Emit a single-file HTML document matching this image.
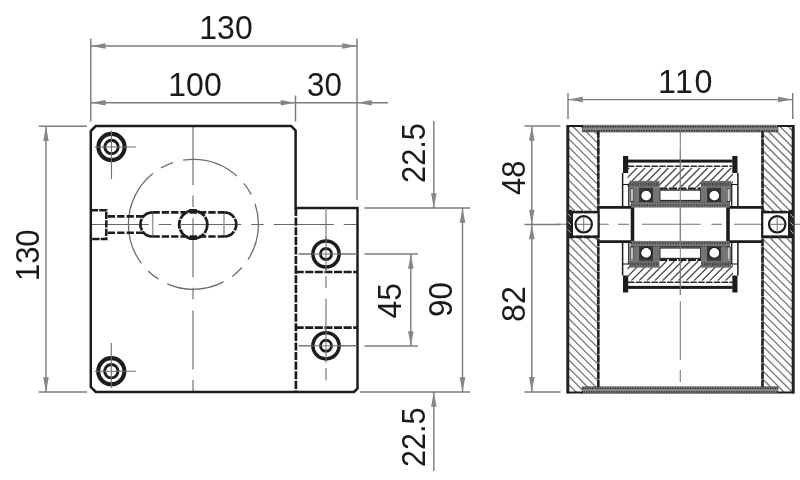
<!DOCTYPE html>
<html><head><meta charset="utf-8"><title>Drawing</title>
<style>
html,body{margin:0;padding:0;background:#fff;}
body{width:800px;height:480px;overflow:hidden;font-family:"Liberation Sans",sans-serif;}
svg{display:block;filter:grayscale(1);}
</style></head>
<body>
<svg width="800" height="480" viewBox="0 0 800 480" font-family="'Liberation Sans', sans-serif">
<rect width="800" height="480" fill="#fff"/>
<line x1="90.8" y1="224.5" x2="358" y2="224.5" stroke="#666" stroke-width="1.1" stroke-dasharray="60 10 12.5 10" stroke-dashoffset="2.049999999999997" stroke-linecap="butt"/>
<line x1="193.0" y1="126.0" x2="193.0" y2="391.9" stroke="#666" stroke-width="1.1" stroke-dasharray="59 10.5 11.5 11.2" stroke-linecap="butt"/>
<path d="M128.4,224.3 A65.0,65.0 0 1 1 258.4,224.3 A65.0,65.0 0 1 1 128.4,224.3" stroke="#6c6c6c" stroke-width="1.25" fill="none" stroke-dasharray="58.2 9.9 13.2 10.2" stroke-linejoin="miter"/>
<line x1="152.7" y1="212" x2="152.7" y2="237" stroke="#9a9a9a" stroke-width="1.5" stroke-linecap="butt"/>
<line x1="224.0" y1="212" x2="224.0" y2="237" stroke="#9a9a9a" stroke-width="1.5" stroke-linecap="butt"/>
<path d="M90.8,131.0 L95.8,126.0 L291.20000000000005,126.0 L295.6,130.6 L295.6,208.0 L357.5,208.0 L357.5,388.4 L354.0,391.9 L95.8,391.9 L90.8,386.9 Z" stroke="#1c1c1c" stroke-width="2.5" fill="none" stroke-linejoin="miter"/>
<line x1="295.90000000000003" y1="208.0" x2="295.90000000000003" y2="391.9" stroke="#1c1c1c" stroke-width="2.7" stroke-dasharray="8.1 1.5" stroke-linecap="butt"/>
<line x1="295.6" y1="272.0" x2="357.5" y2="272.0" stroke="#1c1c1c" stroke-width="2.7" stroke-dasharray="8.1 1.5" stroke-linecap="butt"/>
<line x1="295.6" y1="327.6" x2="357.5" y2="327.6" stroke="#1c1c1c" stroke-width="2.7" stroke-dasharray="8.1 1.5" stroke-linecap="butt"/>
<line x1="326.0" y1="208.0" x2="326.0" y2="272.5" stroke="#707070" stroke-width="1.1" stroke-linecap="butt"/>
<line x1="326.0" y1="276" x2="326.0" y2="288" stroke="#707070" stroke-width="1.1" stroke-linecap="butt"/>
<line x1="326.0" y1="298.8" x2="326.0" y2="360" stroke="#707070" stroke-width="1.1" stroke-linecap="butt"/>
<line x1="326.0" y1="368" x2="326.0" y2="380.5" stroke="#707070" stroke-width="1.1" stroke-linecap="butt"/>
<line x1="298.8" y1="254" x2="357.5" y2="254" stroke="#707070" stroke-width="1.1" stroke-linecap="butt"/>
<line x1="298.8" y1="345.8" x2="357.5" y2="345.8" stroke="#707070" stroke-width="1.1" stroke-linecap="butt"/>
<circle cx="111.5" cy="147.0" r="13.1" stroke="#1c1c1c" stroke-width="4.1" fill="#fff"/>
<circle cx="111.5" cy="147.0" r="6.7" stroke="#1c1c1c" stroke-width="2.9" fill="none"/>
<line x1="94.8" y1="147.0" x2="135.8" y2="147.0" stroke="#707070" stroke-width="1.1" stroke-linecap="butt"/>
<line x1="111.5" y1="130.6" x2="111.5" y2="179" stroke="#707070" stroke-width="1.1" stroke-linecap="butt"/>
<circle cx="111.3" cy="371.2" r="13.1" stroke="#1c1c1c" stroke-width="4.1" fill="#fff"/>
<circle cx="111.3" cy="371.2" r="6.7" stroke="#1c1c1c" stroke-width="2.9" fill="none"/>
<line x1="94.8" y1="371.2" x2="135.8" y2="371.2" stroke="#707070" stroke-width="1.1" stroke-linecap="butt"/>
<line x1="111.3" y1="343" x2="111.3" y2="388" stroke="#707070" stroke-width="1.1" stroke-linecap="butt"/>
<circle cx="326.0" cy="254.0" r="13.1" stroke="#1c1c1c" stroke-width="3.5" fill="#fff"/>
<circle cx="326.0" cy="254.0" r="5.5" stroke="#1c1c1c" stroke-width="2.9" fill="none"/>
<circle cx="326.0" cy="345.8" r="13.1" stroke="#1c1c1c" stroke-width="3.5" fill="#fff"/>
<circle cx="326.0" cy="345.8" r="5.5" stroke="#1c1c1c" stroke-width="2.9" fill="none"/>
<line x1="298.8" y1="254.0" x2="357.5" y2="254.0" stroke="#707070" stroke-width="1.0" stroke-linecap="butt"/>
<line x1="326.0" y1="237.0" x2="326.0" y2="271.0" stroke="#707070" stroke-width="1.0" stroke-linecap="butt"/>
<line x1="298.8" y1="345.8" x2="357.5" y2="345.8" stroke="#707070" stroke-width="1.0" stroke-linecap="butt"/>
<line x1="326.0" y1="328.8" x2="326.0" y2="362.8" stroke="#707070" stroke-width="1.0" stroke-linecap="butt"/>
<path d="M90.8,210.2 L106.3,210.2 L106.3,239 L90.8,239" stroke="#1c1c1c" stroke-width="2.5" fill="none" stroke-dasharray="7.4 1.1" stroke-linejoin="miter"/>
<line x1="106.3" y1="216.4" x2="143" y2="216.4" stroke="#1c1c1c" stroke-width="2.6" stroke-dasharray="7.3 2.1" stroke-dashoffset="-1.5" stroke-linecap="butt"/>
<line x1="106.3" y1="232.8" x2="143" y2="232.8" stroke="#1c1c1c" stroke-width="2.6" stroke-dasharray="7.3 2.1" stroke-dashoffset="-1.5" stroke-linecap="butt"/>
<path d="M152.5,212.3 L224.2,212.3 M152.5,236.5 L224.2,236.5" stroke="#1c1c1c" stroke-width="2.7" fill="none" stroke-dasharray="7.3 2.0" stroke-linejoin="miter"/>
<path d="M152.5,212.3 A12.1,12.1 0 0 0 152.5,236.5 M224.2,212.3 A12.1,12.1 0 0 1 224.2,236.5" stroke="#1c1c1c" stroke-width="2.7" fill="none" stroke-dasharray="12 1.2" stroke-linejoin="miter"/>
<circle cx="193.3" cy="224.6" r="14.1" stroke="#1c1c1c" stroke-width="2.8" fill="none" stroke-dasharray="9 1.0"/>
<line x1="189.0" y1="210.6" x2="197.0" y2="210.6" stroke="#1c1c1c" stroke-width="2.6" stroke-linecap="butt"/>
<line x1="189.0" y1="238.6" x2="197.0" y2="238.6" stroke="#1c1c1c" stroke-width="2.6" stroke-linecap="butt"/>
<line x1="90.8" y1="38.5" x2="90.8" y2="121.5" stroke="#7c7c7c" stroke-width="1.45" stroke-linecap="butt"/>
<line x1="357" y1="38.5" x2="357" y2="200" stroke="#7c7c7c" stroke-width="1.45" stroke-linecap="butt"/>
<line x1="90.8" y1="46" x2="357" y2="46" stroke="#7c7c7c" stroke-width="1.45" stroke-linecap="butt"/>
<polygon points="90.80,46.00 105.60,43.25 105.60,48.75" fill="#868686"/>
<polygon points="357.00,46.00 342.20,43.25 342.20,48.75" fill="#868686"/>
<text transform="translate(226.00,38.55) scale(0.9399,1)" font-size="34" letter-spacing="0" text-anchor="middle" fill="#1a1a1a">130</text>
<line x1="295.5" y1="95.5" x2="295.5" y2="121.5" stroke="#7c7c7c" stroke-width="1.45" stroke-linecap="butt"/>
<line x1="90.8" y1="102.7" x2="295.5" y2="102.7" stroke="#7c7c7c" stroke-width="1.45" stroke-linecap="butt"/>
<polygon points="90.80,102.70 105.60,99.95 105.60,105.45" fill="#868686"/>
<polygon points="295.50,102.70 280.70,99.95 280.70,105.45" fill="#868686"/>
<line x1="295.5" y1="102.7" x2="388" y2="102.7" stroke="#7c7c7c" stroke-width="1.45" stroke-linecap="butt"/>
<polygon points="357.00,102.70 371.80,99.95 371.80,105.45" fill="#868686"/>
<text transform="translate(195.00,95.75) scale(0.9399,1)" font-size="34" letter-spacing="0" text-anchor="middle" fill="#1a1a1a">100</text>
<text transform="translate(324.50,95.75) scale(0.9200,1)" font-size="34" letter-spacing="0" text-anchor="middle" fill="#1a1a1a">30</text>
<line x1="38.7" y1="126.2" x2="87" y2="126.2" stroke="#7c7c7c" stroke-width="1.45" stroke-linecap="butt"/>
<line x1="38.7" y1="392" x2="87" y2="392" stroke="#7c7c7c" stroke-width="1.45" stroke-linecap="butt"/>
<line x1="46" y1="126.2" x2="46" y2="392" stroke="#7c7c7c" stroke-width="1.45" stroke-linecap="butt"/>
<polygon points="46.00,126.20 43.25,141.00 48.75,141.00" fill="#868686"/>
<polygon points="46.00,392.00 43.25,377.20 48.75,377.20" fill="#868686"/>
<text transform="translate(39.00,255.25) rotate(-90) scale(0.9124,1)" font-size="34" letter-spacing="0" text-anchor="middle" fill="#1a1a1a">130</text>
<line x1="364.4" y1="208" x2="470" y2="208" stroke="#7c7c7c" stroke-width="1.45" stroke-linecap="butt"/>
<line x1="360" y1="392" x2="470" y2="392" stroke="#7c7c7c" stroke-width="1.45" stroke-linecap="butt"/>
<line x1="433.8" y1="121" x2="433.8" y2="208" stroke="#7c7c7c" stroke-width="1.45" stroke-linecap="butt"/>
<polygon points="433.80,208.00 431.05,193.20 436.55,193.20" fill="#868686"/>
<line x1="433.8" y1="392" x2="433.8" y2="471" stroke="#7c7c7c" stroke-width="1.45" stroke-linecap="butt"/>
<polygon points="433.80,392.00 431.05,406.80 436.55,406.80" fill="#868686"/>
<text transform="translate(425.25,153.00) rotate(-90) scale(0.9041,1)" font-size="34" letter-spacing="0" text-anchor="middle" fill="#1a1a1a">22.5</text>
<text transform="translate(424.75,437.25) rotate(-90) scale(0.8969,1)" font-size="34" letter-spacing="0" text-anchor="middle" fill="#1a1a1a">22.5</text>
<line x1="462.5" y1="208" x2="462.5" y2="392" stroke="#7c7c7c" stroke-width="1.45" stroke-linecap="butt"/>
<polygon points="462.50,208.00 459.75,222.80 465.25,222.80" fill="#868686"/>
<polygon points="462.50,392.00 459.75,377.20 465.25,377.20" fill="#868686"/>
<text transform="translate(452.00,299.50) rotate(-90) scale(0.9200,1)" font-size="34" letter-spacing="0" text-anchor="middle" fill="#1a1a1a">90</text>
<line x1="364.5" y1="254" x2="418" y2="254" stroke="#7c7c7c" stroke-width="1.45" stroke-linecap="butt"/>
<line x1="364.5" y1="346" x2="418" y2="346" stroke="#7c7c7c" stroke-width="1.45" stroke-linecap="butt"/>
<line x1="410.8" y1="254" x2="410.8" y2="346" stroke="#7c7c7c" stroke-width="1.45" stroke-linecap="butt"/>
<polygon points="410.80,254.00 408.05,268.80 413.55,268.80" fill="#868686"/>
<polygon points="410.80,346.00 408.05,331.20 413.55,331.20" fill="#868686"/>
<text transform="translate(401.25,300.75) rotate(-90) scale(0.9354,1)" font-size="34" letter-spacing="0" text-anchor="middle" fill="#1a1a1a">45</text>
<clipPath id="h1"><rect x="567.5" y="126.0" width="31.0" height="85.0"/></clipPath>
<g clip-path="url(#h1)" stroke="#757575" stroke-width="1.3">
<line x1="465.15" y1="126.0" x2="550.15" y2="211"/>
<line x1="473.40" y1="126.0" x2="558.40" y2="211"/>
<line x1="481.65" y1="126.0" x2="566.65" y2="211"/>
<line x1="489.90" y1="126.0" x2="574.90" y2="211"/>
<line x1="498.15" y1="126.0" x2="583.15" y2="211"/>
<line x1="506.40" y1="126.0" x2="591.40" y2="211"/>
<line x1="514.65" y1="126.0" x2="599.65" y2="211"/>
<line x1="522.90" y1="126.0" x2="607.90" y2="211"/>
<line x1="531.15" y1="126.0" x2="616.15" y2="211"/>
<line x1="539.40" y1="126.0" x2="624.40" y2="211"/>
<line x1="547.65" y1="126.0" x2="632.65" y2="211"/>
<line x1="555.90" y1="126.0" x2="640.90" y2="211"/>
<line x1="564.15" y1="126.0" x2="649.15" y2="211"/>
<line x1="572.40" y1="126.0" x2="657.40" y2="211"/>
<line x1="580.65" y1="126.0" x2="665.65" y2="211"/>
<line x1="588.90" y1="126.0" x2="673.90" y2="211"/>
<line x1="597.15" y1="126.0" x2="682.15" y2="211"/>
<line x1="605.40" y1="126.0" x2="690.40" y2="211"/>
<line x1="613.65" y1="126.0" x2="698.65" y2="211"/>
<line x1="621.90" y1="126.0" x2="706.90" y2="211"/>
<line x1="630.15" y1="126.0" x2="715.15" y2="211"/>
<line x1="638.40" y1="126.0" x2="723.40" y2="211"/>
<line x1="646.65" y1="126.0" x2="731.65" y2="211"/>
<line x1="654.90" y1="126.0" x2="739.90" y2="211"/>
<line x1="663.15" y1="126.0" x2="748.15" y2="211"/>
<line x1="671.40" y1="126.0" x2="756.40" y2="211"/>
<line x1="679.65" y1="126.0" x2="764.65" y2="211"/>
<line x1="687.90" y1="126.0" x2="772.90" y2="211"/>
</g>
<clipPath id="h2"><rect x="567.5" y="237.5" width="31.0" height="155.0"/></clipPath>
<g clip-path="url(#h2)" stroke="#757575" stroke-width="1.3">
<line x1="396.90" y1="237.5" x2="551.90" y2="392.5"/>
<line x1="405.15" y1="237.5" x2="560.15" y2="392.5"/>
<line x1="413.40" y1="237.5" x2="568.40" y2="392.5"/>
<line x1="421.65" y1="237.5" x2="576.65" y2="392.5"/>
<line x1="429.90" y1="237.5" x2="584.90" y2="392.5"/>
<line x1="438.15" y1="237.5" x2="593.15" y2="392.5"/>
<line x1="446.40" y1="237.5" x2="601.40" y2="392.5"/>
<line x1="454.65" y1="237.5" x2="609.65" y2="392.5"/>
<line x1="462.90" y1="237.5" x2="617.90" y2="392.5"/>
<line x1="471.15" y1="237.5" x2="626.15" y2="392.5"/>
<line x1="479.40" y1="237.5" x2="634.40" y2="392.5"/>
<line x1="487.65" y1="237.5" x2="642.65" y2="392.5"/>
<line x1="495.90" y1="237.5" x2="650.90" y2="392.5"/>
<line x1="504.15" y1="237.5" x2="659.15" y2="392.5"/>
<line x1="512.40" y1="237.5" x2="667.40" y2="392.5"/>
<line x1="520.65" y1="237.5" x2="675.65" y2="392.5"/>
<line x1="528.90" y1="237.5" x2="683.90" y2="392.5"/>
<line x1="537.15" y1="237.5" x2="692.15" y2="392.5"/>
<line x1="545.40" y1="237.5" x2="700.40" y2="392.5"/>
<line x1="553.65" y1="237.5" x2="708.65" y2="392.5"/>
<line x1="561.90" y1="237.5" x2="716.90" y2="392.5"/>
<line x1="570.15" y1="237.5" x2="725.15" y2="392.5"/>
<line x1="578.40" y1="237.5" x2="733.40" y2="392.5"/>
<line x1="586.65" y1="237.5" x2="741.65" y2="392.5"/>
<line x1="594.90" y1="237.5" x2="749.90" y2="392.5"/>
<line x1="603.15" y1="237.5" x2="758.15" y2="392.5"/>
<line x1="611.40" y1="237.5" x2="766.40" y2="392.5"/>
<line x1="619.65" y1="237.5" x2="774.65" y2="392.5"/>
<line x1="627.90" y1="237.5" x2="782.90" y2="392.5"/>
<line x1="636.15" y1="237.5" x2="791.15" y2="392.5"/>
<line x1="644.40" y1="237.5" x2="799.40" y2="392.5"/>
<line x1="652.65" y1="237.5" x2="807.65" y2="392.5"/>
<line x1="660.90" y1="237.5" x2="815.90" y2="392.5"/>
<line x1="669.15" y1="237.5" x2="824.15" y2="392.5"/>
<line x1="677.40" y1="237.5" x2="832.40" y2="392.5"/>
<line x1="685.65" y1="237.5" x2="840.65" y2="392.5"/>
<line x1="693.90" y1="237.5" x2="848.90" y2="392.5"/>
<line x1="702.15" y1="237.5" x2="857.15" y2="392.5"/>
<line x1="710.40" y1="237.5" x2="865.40" y2="392.5"/>
<line x1="718.65" y1="237.5" x2="873.65" y2="392.5"/>
<line x1="726.90" y1="237.5" x2="881.90" y2="392.5"/>
<line x1="735.15" y1="237.5" x2="890.15" y2="392.5"/>
<line x1="743.40" y1="237.5" x2="898.40" y2="392.5"/>
<line x1="751.65" y1="237.5" x2="906.65" y2="392.5"/>
<line x1="759.90" y1="237.5" x2="914.90" y2="392.5"/>
</g>
<clipPath id="h3"><rect x="762.3" y="126.0" width="31.200000000000045" height="85.0"/></clipPath>
<g clip-path="url(#h3)" stroke="#757575" stroke-width="1.3">
<line x1="655.75" y1="126.0" x2="740.75" y2="211"/>
<line x1="664.00" y1="126.0" x2="749.00" y2="211"/>
<line x1="672.25" y1="126.0" x2="757.25" y2="211"/>
<line x1="680.50" y1="126.0" x2="765.50" y2="211"/>
<line x1="688.75" y1="126.0" x2="773.75" y2="211"/>
<line x1="697.00" y1="126.0" x2="782.00" y2="211"/>
<line x1="705.25" y1="126.0" x2="790.25" y2="211"/>
<line x1="713.50" y1="126.0" x2="798.50" y2="211"/>
<line x1="721.75" y1="126.0" x2="806.75" y2="211"/>
<line x1="730.00" y1="126.0" x2="815.00" y2="211"/>
<line x1="738.25" y1="126.0" x2="823.25" y2="211"/>
<line x1="746.50" y1="126.0" x2="831.50" y2="211"/>
<line x1="754.75" y1="126.0" x2="839.75" y2="211"/>
<line x1="763.00" y1="126.0" x2="848.00" y2="211"/>
<line x1="771.25" y1="126.0" x2="856.25" y2="211"/>
<line x1="779.50" y1="126.0" x2="864.50" y2="211"/>
<line x1="787.75" y1="126.0" x2="872.75" y2="211"/>
<line x1="796.00" y1="126.0" x2="881.00" y2="211"/>
<line x1="804.25" y1="126.0" x2="889.25" y2="211"/>
<line x1="812.50" y1="126.0" x2="897.50" y2="211"/>
<line x1="820.75" y1="126.0" x2="905.75" y2="211"/>
<line x1="829.00" y1="126.0" x2="914.00" y2="211"/>
<line x1="837.25" y1="126.0" x2="922.25" y2="211"/>
<line x1="845.50" y1="126.0" x2="930.50" y2="211"/>
<line x1="853.75" y1="126.0" x2="938.75" y2="211"/>
<line x1="862.00" y1="126.0" x2="947.00" y2="211"/>
<line x1="870.25" y1="126.0" x2="955.25" y2="211"/>
<line x1="878.50" y1="126.0" x2="963.50" y2="211"/>
</g>
<clipPath id="h4"><rect x="762.3" y="237.5" width="31.200000000000045" height="155.0"/></clipPath>
<g clip-path="url(#h4)" stroke="#757575" stroke-width="1.3">
<line x1="596.40" y1="237.5" x2="751.40" y2="392.5"/>
<line x1="604.65" y1="237.5" x2="759.65" y2="392.5"/>
<line x1="612.90" y1="237.5" x2="767.90" y2="392.5"/>
<line x1="621.15" y1="237.5" x2="776.15" y2="392.5"/>
<line x1="629.40" y1="237.5" x2="784.40" y2="392.5"/>
<line x1="637.65" y1="237.5" x2="792.65" y2="392.5"/>
<line x1="645.90" y1="237.5" x2="800.90" y2="392.5"/>
<line x1="654.15" y1="237.5" x2="809.15" y2="392.5"/>
<line x1="662.40" y1="237.5" x2="817.40" y2="392.5"/>
<line x1="670.65" y1="237.5" x2="825.65" y2="392.5"/>
<line x1="678.90" y1="237.5" x2="833.90" y2="392.5"/>
<line x1="687.15" y1="237.5" x2="842.15" y2="392.5"/>
<line x1="695.40" y1="237.5" x2="850.40" y2="392.5"/>
<line x1="703.65" y1="237.5" x2="858.65" y2="392.5"/>
<line x1="711.90" y1="237.5" x2="866.90" y2="392.5"/>
<line x1="720.15" y1="237.5" x2="875.15" y2="392.5"/>
<line x1="728.40" y1="237.5" x2="883.40" y2="392.5"/>
<line x1="736.65" y1="237.5" x2="891.65" y2="392.5"/>
<line x1="744.90" y1="237.5" x2="899.90" y2="392.5"/>
<line x1="753.15" y1="237.5" x2="908.15" y2="392.5"/>
<line x1="761.40" y1="237.5" x2="916.40" y2="392.5"/>
<line x1="769.65" y1="237.5" x2="924.65" y2="392.5"/>
<line x1="777.90" y1="237.5" x2="932.90" y2="392.5"/>
<line x1="786.15" y1="237.5" x2="941.15" y2="392.5"/>
<line x1="794.40" y1="237.5" x2="949.40" y2="392.5"/>
<line x1="802.65" y1="237.5" x2="957.65" y2="392.5"/>
<line x1="810.90" y1="237.5" x2="965.90" y2="392.5"/>
<line x1="819.15" y1="237.5" x2="974.15" y2="392.5"/>
<line x1="827.40" y1="237.5" x2="982.40" y2="392.5"/>
<line x1="835.65" y1="237.5" x2="990.65" y2="392.5"/>
<line x1="843.90" y1="237.5" x2="998.90" y2="392.5"/>
<line x1="852.15" y1="237.5" x2="1007.15" y2="392.5"/>
<line x1="860.40" y1="237.5" x2="1015.40" y2="392.5"/>
<line x1="868.65" y1="237.5" x2="1023.65" y2="392.5"/>
<line x1="876.90" y1="237.5" x2="1031.90" y2="392.5"/>
<line x1="885.15" y1="237.5" x2="1040.15" y2="392.5"/>
<line x1="893.40" y1="237.5" x2="1048.40" y2="392.5"/>
<line x1="901.65" y1="237.5" x2="1056.65" y2="392.5"/>
<line x1="909.90" y1="237.5" x2="1064.90" y2="392.5"/>
<line x1="918.15" y1="237.5" x2="1073.15" y2="392.5"/>
<line x1="926.40" y1="237.5" x2="1081.40" y2="392.5"/>
<line x1="934.65" y1="237.5" x2="1089.65" y2="392.5"/>
<line x1="942.90" y1="237.5" x2="1097.90" y2="392.5"/>
<line x1="951.15" y1="237.5" x2="1106.15" y2="392.5"/>
</g>
<line x1="680.3" y1="132" x2="680.3" y2="386" stroke="#808080" stroke-width="1.1" stroke-dasharray="163 6 59 10 12 200" stroke-linecap="butt"/>
<line x1="556" y1="224.3" x2="608.8" y2="224.3" stroke="#777" stroke-width="1.1" stroke-linecap="butt"/>
<line x1="618" y1="224.3" x2="629" y2="224.3" stroke="#777" stroke-width="1.1" stroke-linecap="butt"/>
<line x1="642" y1="224.3" x2="700.7" y2="224.3" stroke="#777" stroke-width="1.1" stroke-linecap="butt"/>
<line x1="711.4" y1="224.3" x2="721.8" y2="224.3" stroke="#777" stroke-width="1.1" stroke-linecap="butt"/>
<line x1="734" y1="224.3" x2="800" y2="224.3" stroke="#777" stroke-width="1.1" stroke-linecap="butt"/>
<rect x="582.2" y="125.2" width="195.79999999999995" height="6.799999999999997" fill="#868686" stroke="#5a5a5a" stroke-width="0.7"/>
<line x1="582.2" y1="126.7" x2="778" y2="126.7" stroke="#2e2e2e" stroke-width="1.6" stroke-dasharray="1.5 1.0" stroke-linecap="butt"/>
<line x1="582.2" y1="130.7" x2="778" y2="130.7" stroke="#2e2e2e" stroke-width="1.5" stroke-dasharray="1.5 1.0" stroke-dashoffset="1.2" stroke-linecap="butt"/>
<rect x="582.2" y="386.8" width="195.79999999999995" height="6.5" fill="#868686" stroke="#5a5a5a" stroke-width="0.7"/>
<line x1="582.2" y1="388.3" x2="778" y2="388.3" stroke="#2e2e2e" stroke-width="1.6" stroke-dasharray="1.5 1.0" stroke-linecap="butt"/>
<line x1="582.2" y1="392.0" x2="778" y2="392.0" stroke="#2e2e2e" stroke-width="1.5" stroke-dasharray="1.5 1.0" stroke-dashoffset="1.2" stroke-linecap="butt"/>
<line x1="567.8" y1="125.0" x2="567.8" y2="393.5" stroke="#222" stroke-width="3.0" stroke-linecap="butt"/>
<line x1="793.2" y1="125.0" x2="793.2" y2="393.5" stroke="#222" stroke-width="3.0" stroke-linecap="butt"/>
<line x1="598.3" y1="131" x2="598.3" y2="387" stroke="#7a7a7a" stroke-width="2.2" stroke-linecap="butt"/>
<line x1="598.3" y1="131" x2="598.3" y2="387" stroke="#242424" stroke-width="2.5" stroke-dasharray="7.2 1.1" stroke-linecap="butt"/>
<line x1="762.5" y1="131" x2="762.5" y2="387" stroke="#7a7a7a" stroke-width="2.2" stroke-linecap="butt"/>
<line x1="762.5" y1="131" x2="762.5" y2="387" stroke="#242424" stroke-width="2.5" stroke-dasharray="7.2 1.1" stroke-linecap="butt"/>
<line x1="567.5" y1="126.0" x2="583" y2="126.0" stroke="#1c1c1c" stroke-width="2.0" stroke-linecap="butt"/>
<line x1="778" y1="126.0" x2="793.5" y2="126.0" stroke="#1c1c1c" stroke-width="2.0" stroke-linecap="butt"/>
<line x1="567.5" y1="392.5" x2="583" y2="392.5" stroke="#1c1c1c" stroke-width="2.0" stroke-linecap="butt"/>
<line x1="778" y1="392.5" x2="793.5" y2="392.5" stroke="#1c1c1c" stroke-width="2.0" stroke-linecap="butt"/>
<rect x="567" y="209.8" width="5" height="27.6" fill="#262626" stroke="none" stroke-width="0"/>
<line x1="567.5" y1="213.5" x2="572" y2="218.0" stroke="#b5b5b5" stroke-width="0.9" stroke-linecap="butt"/>
<line x1="567.5" y1="221.5" x2="572" y2="226.0" stroke="#b5b5b5" stroke-width="0.9" stroke-linecap="butt"/>
<line x1="567.5" y1="229.5" x2="572" y2="234.0" stroke="#b5b5b5" stroke-width="0.9" stroke-linecap="butt"/>
<rect x="572" y="212.2" width="26.5" height="24.5" fill="#fff" stroke="#1c1c1c" stroke-width="2.0"/>
<line x1="567" y1="212.0" x2="598.5" y2="212.0" stroke="#1c1c1c" stroke-width="2.7" stroke-dasharray="7.5 1.0" stroke-linecap="butt"/>
<line x1="567" y1="236.9" x2="598.5" y2="236.9" stroke="#1c1c1c" stroke-width="2.7" stroke-dasharray="7.5 1.0" stroke-linecap="butt"/>
<circle cx="583.7" cy="224.3" r="8.2" stroke="#1c1c1c" stroke-width="2.2" fill="#fff"/>
<line x1="576.7" y1="224.3" x2="590.7" y2="224.3" stroke="#707070" stroke-width="1.0" stroke-linecap="butt"/>
<line x1="583.7" y1="217.3" x2="583.7" y2="231.3" stroke="#707070" stroke-width="1.0" stroke-linecap="butt"/>
<rect x="789" y="209.8" width="5" height="27.6" fill="#262626" stroke="none" stroke-width="0"/>
<line x1="789.5" y1="213.5" x2="794" y2="218.0" stroke="#b5b5b5" stroke-width="0.9" stroke-linecap="butt"/>
<line x1="789.5" y1="221.5" x2="794" y2="226.0" stroke="#b5b5b5" stroke-width="0.9" stroke-linecap="butt"/>
<line x1="789.5" y1="229.5" x2="794" y2="234.0" stroke="#b5b5b5" stroke-width="0.9" stroke-linecap="butt"/>
<rect x="762.3" y="212.2" width="26.700000000000045" height="24.5" fill="#fff" stroke="#1c1c1c" stroke-width="2.0"/>
<line x1="762.3" y1="212.0" x2="794" y2="212.0" stroke="#1c1c1c" stroke-width="2.7" stroke-dasharray="7.5 1.0" stroke-linecap="butt"/>
<line x1="762.3" y1="236.9" x2="794" y2="236.9" stroke="#1c1c1c" stroke-width="2.7" stroke-dasharray="7.5 1.0" stroke-linecap="butt"/>
<circle cx="777.2" cy="224.3" r="8.2" stroke="#1c1c1c" stroke-width="2.2" fill="#fff"/>
<line x1="770.2" y1="224.3" x2="784.2" y2="224.3" stroke="#707070" stroke-width="1.0" stroke-linecap="butt"/>
<line x1="777.2" y1="217.3" x2="777.2" y2="231.3" stroke="#707070" stroke-width="1.0" stroke-linecap="butt"/>
<path d="M598.5,207.3 L632.5,207.3 M598.5,241.7 L632.5,241.7" stroke="#1c1c1c" stroke-width="2.8" fill="none" stroke-linejoin="miter"/>
<path d="M762.3,207.3 L728,207.3 M762.3,241.7 L728,241.7" stroke="#1c1c1c" stroke-width="2.8" fill="none" stroke-linejoin="miter"/>
<line x1="632.5" y1="200" x2="632.5" y2="249" stroke="#1c1c1c" stroke-width="3.6" stroke-linecap="butt"/>
<line x1="728.0" y1="200" x2="728.0" y2="249" stroke="#1c1c1c" stroke-width="3.6" stroke-linecap="butt"/>
<rect x="623.0" y="156" width="5.2" height="17" fill="#1c1c1c" stroke="none" stroke-width="0"/>
<rect x="732.3" y="156" width="5.2" height="17" fill="#1c1c1c" stroke="none" stroke-width="0"/>
<rect x="628" y="159.6" width="104.5" height="3.0" fill="#1c1c1c" stroke="none" stroke-width="0"/>
<line x1="628" y1="166.2" x2="732.5" y2="166.2" stroke="#2a2a2a" stroke-width="1.4" stroke-dasharray="6.5 1.3" stroke-linecap="butt"/>
<clipPath id="r1"><rect x="627.5" y="167.8" width="105.5" height="19.69999999999999"/></clipPath>
<g clip-path="url(#r1)" stroke="#444" stroke-width="1.25">
<line x1="594.00" y1="187.5" x2="613.70" y2="167.8"/>
<line x1="601.85" y1="187.5" x2="621.55" y2="167.8"/>
<line x1="609.70" y1="187.5" x2="629.40" y2="167.8"/>
<line x1="617.55" y1="187.5" x2="637.25" y2="167.8"/>
<line x1="625.40" y1="187.5" x2="645.10" y2="167.8"/>
<line x1="633.25" y1="187.5" x2="652.95" y2="167.8"/>
<line x1="641.10" y1="187.5" x2="660.80" y2="167.8"/>
<line x1="648.95" y1="187.5" x2="668.65" y2="167.8"/>
<line x1="656.80" y1="187.5" x2="676.50" y2="167.8"/>
<line x1="664.65" y1="187.5" x2="684.35" y2="167.8"/>
<line x1="672.50" y1="187.5" x2="692.20" y2="167.8"/>
<line x1="680.35" y1="187.5" x2="700.05" y2="167.8"/>
<line x1="688.20" y1="187.5" x2="707.90" y2="167.8"/>
<line x1="696.05" y1="187.5" x2="715.75" y2="167.8"/>
<line x1="703.90" y1="187.5" x2="723.60" y2="167.8"/>
<line x1="711.75" y1="187.5" x2="731.45" y2="167.8"/>
<line x1="719.60" y1="187.5" x2="739.30" y2="167.8"/>
<line x1="727.45" y1="187.5" x2="747.15" y2="167.8"/>
<line x1="735.30" y1="187.5" x2="755.00" y2="167.8"/>
<line x1="743.15" y1="187.5" x2="762.85" y2="167.8"/>
<line x1="751.00" y1="187.5" x2="770.70" y2="167.8"/>
<line x1="758.85" y1="187.5" x2="778.55" y2="167.8"/>
</g>
<line x1="659.4" y1="188.4" x2="701" y2="188.4" stroke="#1c1c1c" stroke-width="2.0" stroke-dasharray="8 1.5" stroke-linecap="butt"/>
<rect x="631" y="201.6" width="98.5" height="6.0" fill="#7a7a7a" stroke="none" stroke-width="0"/>
<line x1="631" y1="205.4" x2="729.5" y2="205.4" stroke="#404040" stroke-width="2.4" stroke-dasharray="1.3 1.3" stroke-linecap="butt"/>
<line x1="631" y1="201.9" x2="729.5" y2="201.9" stroke="#3a3a3a" stroke-width="1.0" stroke-linecap="butt"/>
<rect x="659.8" y="190" width="41.0" height="10.599999999999994" fill="#fff" stroke="#2a2a2a" stroke-width="1.4"/>
<rect x="629.4" y="180.8" width="30.100000000000023" height="7.0" fill="#6e6e6e" stroke="none" stroke-width="0"/>
<line x1="629.9" y1="184.3" x2="659.0" y2="184.3" stroke="#444" stroke-width="3.0" stroke-dasharray="1.3 1.3" stroke-linecap="butt"/>
<rect x="630.3" y="188.5" width="3.1000000000000227" height="13.0" fill="#c8c8c8" stroke="#333" stroke-width="0.9"/>
<rect x="633.6" y="187.6" width="5.2999999999999545" height="14.400000000000006" fill="#747474" stroke="none" stroke-width="0"/>
<rect x="653.5" y="187.6" width="6.0" height="14.400000000000006" fill="#747474" stroke="none" stroke-width="0"/>
<rect x="638.9" y="187.6" width="14.600000000000023" height="14.400000000000006" fill="#383838" stroke="none" stroke-width="0"/>
<circle cx="646.2" cy="195.6" r="5.5" stroke="#1e1e1e" stroke-width="1.2" fill="#fff"/>
<rect x="701.0" y="180.8" width="30.100000000000023" height="7.0" fill="#6e6e6e" stroke="none" stroke-width="0"/>
<line x1="701.5" y1="184.3" x2="730.6" y2="184.3" stroke="#444" stroke-width="3.0" stroke-dasharray="1.3 1.3" stroke-linecap="butt"/>
<rect x="727.1" y="188.5" width="3.1000000000000227" height="13.0" fill="#c8c8c8" stroke="#333" stroke-width="0.9"/>
<rect x="721.6" y="187.6" width="5.2999999999999545" height="14.400000000000006" fill="#747474" stroke="none" stroke-width="0"/>
<rect x="701.0" y="187.6" width="6.0" height="14.400000000000006" fill="#747474" stroke="none" stroke-width="0"/>
<rect x="707.0" y="187.6" width="14.600000000000023" height="14.400000000000006" fill="#383838" stroke="none" stroke-width="0"/>
<circle cx="714.3" cy="195.6" r="5.5" stroke="#1e1e1e" stroke-width="1.2" fill="#fff"/>
<line x1="622.6" y1="173" x2="622.6" y2="207.3" stroke="#1c1c1c" stroke-width="1.5" stroke-linecap="butt"/>
<line x1="628.8" y1="184" x2="628.8" y2="207.3" stroke="#1c1c1c" stroke-width="1.3" stroke-linecap="butt"/>
<line x1="622.6" y1="184.5" x2="628.8" y2="184.5" stroke="#1c1c1c" stroke-width="1.1" stroke-linecap="butt"/>
<line x1="737.9" y1="173" x2="737.9" y2="207.3" stroke="#1c1c1c" stroke-width="1.5" stroke-linecap="butt"/>
<line x1="731.7" y1="184" x2="731.7" y2="207.3" stroke="#1c1c1c" stroke-width="1.3" stroke-linecap="butt"/>
<line x1="737.9" y1="184.5" x2="731.7" y2="184.5" stroke="#1c1c1c" stroke-width="1.1" stroke-linecap="butt"/>
<rect x="623.0" y="275.5" width="5.2" height="17.0" fill="#1c1c1c" stroke="none" stroke-width="0"/>
<rect x="732.3" y="275.5" width="5.2" height="17.0" fill="#1c1c1c" stroke="none" stroke-width="0"/>
<rect x="628" y="285.9" width="104.5" height="3.0" fill="#1c1c1c" stroke="none" stroke-width="0"/>
<line x1="628" y1="282.3" x2="732.5" y2="282.3" stroke="#2a2a2a" stroke-width="1.4" stroke-dasharray="6.5 1.3" stroke-linecap="butt"/>
<clipPath id="r2"><rect x="627.5" y="261.0" width="105.5" height="19.69999999999999"/></clipPath>
<g clip-path="url(#r2)" stroke="#444" stroke-width="1.25">
<line x1="592.00" y1="280.7" x2="611.70" y2="261.0"/>
<line x1="599.85" y1="280.7" x2="619.55" y2="261.0"/>
<line x1="607.70" y1="280.7" x2="627.40" y2="261.0"/>
<line x1="615.55" y1="280.7" x2="635.25" y2="261.0"/>
<line x1="623.40" y1="280.7" x2="643.10" y2="261.0"/>
<line x1="631.25" y1="280.7" x2="650.95" y2="261.0"/>
<line x1="639.10" y1="280.7" x2="658.80" y2="261.0"/>
<line x1="646.95" y1="280.7" x2="666.65" y2="261.0"/>
<line x1="654.80" y1="280.7" x2="674.50" y2="261.0"/>
<line x1="662.65" y1="280.7" x2="682.35" y2="261.0"/>
<line x1="670.50" y1="280.7" x2="690.20" y2="261.0"/>
<line x1="678.35" y1="280.7" x2="698.05" y2="261.0"/>
<line x1="686.20" y1="280.7" x2="705.90" y2="261.0"/>
<line x1="694.05" y1="280.7" x2="713.75" y2="261.0"/>
<line x1="701.90" y1="280.7" x2="721.60" y2="261.0"/>
<line x1="709.75" y1="280.7" x2="729.45" y2="261.0"/>
<line x1="717.60" y1="280.7" x2="737.30" y2="261.0"/>
<line x1="725.45" y1="280.7" x2="745.15" y2="261.0"/>
<line x1="733.30" y1="280.7" x2="753.00" y2="261.0"/>
<line x1="741.15" y1="280.7" x2="760.85" y2="261.0"/>
<line x1="749.00" y1="280.7" x2="768.70" y2="261.0"/>
<line x1="756.85" y1="280.7" x2="776.55" y2="261.0"/>
</g>
<line x1="659.4" y1="260.1" x2="701" y2="260.1" stroke="#1c1c1c" stroke-width="2.0" stroke-dasharray="8 1.5" stroke-linecap="butt"/>
<rect x="631" y="240.9" width="98.5" height="6.0" fill="#7a7a7a" stroke="none" stroke-width="0"/>
<line x1="631" y1="243.1" x2="729.5" y2="243.1" stroke="#404040" stroke-width="2.4" stroke-dasharray="1.3 1.3" stroke-linecap="butt"/>
<line x1="631" y1="246.6" x2="729.5" y2="246.6" stroke="#3a3a3a" stroke-width="1.0" stroke-linecap="butt"/>
<rect x="659.8" y="247.9" width="41.0" height="10.599999999999994" fill="#fff" stroke="#2a2a2a" stroke-width="1.4"/>
<rect x="629.4" y="260.7" width="30.100000000000023" height="7.0" fill="#6e6e6e" stroke="none" stroke-width="0"/>
<line x1="629.9" y1="264.2" x2="659.0" y2="264.2" stroke="#444" stroke-width="3.0" stroke-dasharray="1.3 1.3" stroke-linecap="butt"/>
<rect x="630.3" y="247.0" width="3.1000000000000227" height="13.0" fill="#c8c8c8" stroke="#333" stroke-width="0.9"/>
<rect x="633.6" y="246.5" width="5.2999999999999545" height="14.399999999999977" fill="#747474" stroke="none" stroke-width="0"/>
<rect x="653.5" y="246.5" width="6.0" height="14.399999999999977" fill="#747474" stroke="none" stroke-width="0"/>
<rect x="638.9" y="246.5" width="14.600000000000023" height="14.399999999999977" fill="#383838" stroke="none" stroke-width="0"/>
<circle cx="646.2" cy="252.9" r="5.5" stroke="#1e1e1e" stroke-width="1.2" fill="#fff"/>
<rect x="701.0" y="260.7" width="30.100000000000023" height="7.0" fill="#6e6e6e" stroke="none" stroke-width="0"/>
<line x1="701.5" y1="264.2" x2="730.6" y2="264.2" stroke="#444" stroke-width="3.0" stroke-dasharray="1.3 1.3" stroke-linecap="butt"/>
<rect x="727.1" y="247.0" width="3.1000000000000227" height="13.0" fill="#c8c8c8" stroke="#333" stroke-width="0.9"/>
<rect x="721.6" y="246.5" width="5.2999999999999545" height="14.399999999999977" fill="#747474" stroke="none" stroke-width="0"/>
<rect x="701.0" y="246.5" width="6.0" height="14.399999999999977" fill="#747474" stroke="none" stroke-width="0"/>
<rect x="707.0" y="246.5" width="14.600000000000023" height="14.399999999999977" fill="#383838" stroke="none" stroke-width="0"/>
<circle cx="714.3" cy="252.9" r="5.5" stroke="#1e1e1e" stroke-width="1.2" fill="#fff"/>
<line x1="622.6" y1="275.5" x2="622.6" y2="241.2" stroke="#1c1c1c" stroke-width="1.5" stroke-linecap="butt"/>
<line x1="628.8" y1="264.5" x2="628.8" y2="241.2" stroke="#1c1c1c" stroke-width="1.3" stroke-linecap="butt"/>
<line x1="622.6" y1="264.0" x2="628.8" y2="264.0" stroke="#1c1c1c" stroke-width="1.1" stroke-linecap="butt"/>
<line x1="737.9" y1="275.5" x2="737.9" y2="241.2" stroke="#1c1c1c" stroke-width="1.5" stroke-linecap="butt"/>
<line x1="731.7" y1="264.5" x2="731.7" y2="241.2" stroke="#1c1c1c" stroke-width="1.3" stroke-linecap="butt"/>
<line x1="737.9" y1="264.0" x2="731.7" y2="264.0" stroke="#1c1c1c" stroke-width="1.1" stroke-linecap="butt"/>
<line x1="680.3" y1="150" x2="680.3" y2="295" stroke="#808080" stroke-width="1.0" stroke-linecap="butt"/>
<line x1="568" y1="93" x2="568" y2="119" stroke="#7c7c7c" stroke-width="1.45" stroke-linecap="butt"/>
<line x1="792.7" y1="93" x2="792.7" y2="119" stroke="#7c7c7c" stroke-width="1.45" stroke-linecap="butt"/>
<line x1="568" y1="99.6" x2="792.7" y2="99.6" stroke="#7c7c7c" stroke-width="1.45" stroke-linecap="butt"/>
<polygon points="568.00,99.60 582.80,96.85 582.80,102.35" fill="#868686"/>
<polygon points="792.70,99.60 777.90,96.85 777.90,102.35" fill="#868686"/>
<text transform="translate(686.00,92.70) scale(0.9500,1)" font-size="34" letter-spacing="1.6" text-anchor="middle" fill="#1a1a1a">110</text>
<line x1="524.5" y1="126" x2="560.5" y2="126" stroke="#7c7c7c" stroke-width="1.45" stroke-linecap="butt"/>
<line x1="524.5" y1="224.5" x2="560.5" y2="224.5" stroke="#7c7c7c" stroke-width="1.45" stroke-linecap="butt"/>
<line x1="524.5" y1="392" x2="560.5" y2="392" stroke="#7c7c7c" stroke-width="1.45" stroke-linecap="butt"/>
<line x1="531.8" y1="126" x2="531.8" y2="224.5" stroke="#7c7c7c" stroke-width="1.45" stroke-linecap="butt"/>
<polygon points="531.80,126.00 529.05,140.80 534.55,140.80" fill="#868686"/>
<polygon points="531.80,224.50 529.05,209.70 534.55,209.70" fill="#868686"/>
<line x1="531.8" y1="224.5" x2="531.8" y2="391.9" stroke="#7c7c7c" stroke-width="1.45" stroke-linecap="butt"/>
<polygon points="531.80,224.50 529.05,239.30 534.55,239.30" fill="#868686"/>
<polygon points="531.80,391.90 529.05,377.10 534.55,377.10" fill="#868686"/>
<text transform="translate(524.50,177.75) rotate(-90) scale(0.9076,1)" font-size="34" letter-spacing="0" text-anchor="middle" fill="#1a1a1a">48</text>
<text transform="translate(524.50,304.00) rotate(-90) scale(0.9488,1)" font-size="34" letter-spacing="0" text-anchor="middle" fill="#1a1a1a">82</text>
</svg>
</body></html>
